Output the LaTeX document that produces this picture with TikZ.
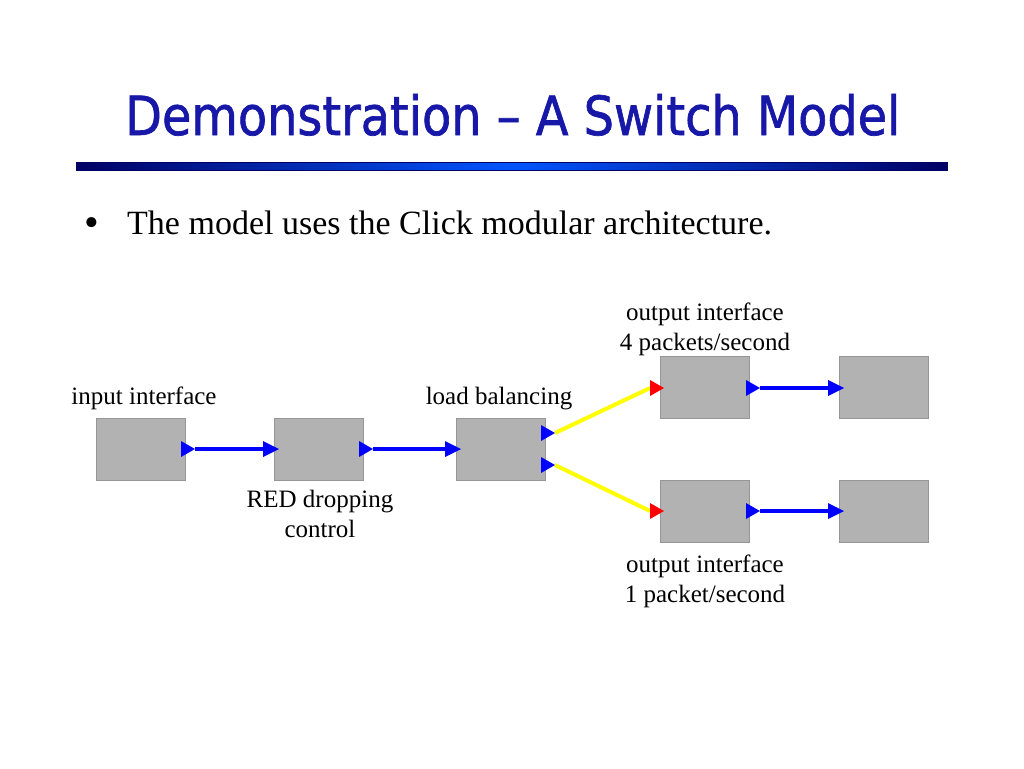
\documentclass[tikz,border=0pt]{standalone}
\usepackage{fontspec}
\setmainfont{Liberation Serif}
\newfontfamily\titlefont[FakeBold=1.3]{DejaVu Sans}
\usetikzlibrary{positioning}
\definecolor{titleblue}{RGB}{24,24,168}
\definecolor{barnavy}{RGB}{0,0,100}
\definecolor{barblue}{RGB}{0,85,255}
\definecolor{boxgray}{RGB}{178,178,178}
\definecolor{boxedge}{RGB}{150,150,150}
\definecolor{portblue}{RGB}{0,0,255}
\definecolor{portred}{RGB}{255,0,0}
\definecolor{wireyellow}{RGB}{255,255,0}
\begin{document}
\begin{tikzpicture}[x=1pt,y=-1pt,
  element/.style={rectangle,draw=boxedge,line width=0.6pt,fill=boxgray,minimum width=89pt,minimum height=62pt,inner sep=0pt},
  label/.style={font=\fontsize{25}{30}\selectfont,inner sep=0pt,align=center,anchor=base},
  bluewire/.style={draw=portblue,line width=4.5pt},
  yellowwire/.style={draw=wireyellow,line width=4pt}]
\useasboundingbox (0,0) rectangle (1024,768);
\fill[white] (0,0) rectangle (1024,768);
% title
\node[anchor=base west,inner sep=0pt,text=titleblue] (title) at (125,135)
  {\resizebox{775pt}{41pt}{\titlefont Demonstration – A Switch Model}};
\shade[left color=barnavy,right color=barnavy,middle color=barblue,draw=barnavy,line width=0.5pt] (76,162) rectangle (947,170);
% bullet
\node[anchor=base,inner sep=0pt,font=\fontsize{42}{50}\selectfont] (dot) at (92,236) {•};
\node[anchor=base west,inner sep=0pt,font=\fontsize{34}{40}\selectfont] (bullet) at (127,234)
  {The model uses the Click modular architecture.};
% elements
\node[element] (b1) at (141,449) {};
\node[element] (b2) at (318.5,449) {};
\node[element] (b3) at (501,449) {};
\node[element] (b4) at (705,387) {};
\node[element] (b5) at (883.5,387) {};
\node[element] (b6) at (705,511) {};
\node[element] (b7) at (883.5,511) {};
% port coordinates
\coordinate (o1) at (195,449);
\coordinate (i2) at (263,449);
\coordinate (o2) at (373,449);
\coordinate (i3) at (445,449);
\coordinate (o3a) at (555,433);
\coordinate (o3b) at (555,465);
\coordinate (i4) at (650,388);
\coordinate (i6) at (650,511);
\coordinate (o4) at (760,388);
\coordinate (i5) at (828,388);
\coordinate (o6) at (760,511);
\coordinate (i7) at (828,511);
% wires
\draw[bluewire] (o1) -- (i2);
\draw[bluewire] (o2) -- (i3);
\draw[yellowwire] (o3a) -- (i4);
\draw[yellowwire] (o3b) -- (i6);
\draw[bluewire] (o4) -- (i5);
\draw[bluewire] (o6) -- (i7);
% output triangles (tip at coordinate)
\foreach \p in {o1,o2,o3a,o3b,o4,o6}
  \fill[portblue] (\p) -- ++(-14,-8) -- ++(0,16) -- cycle;
% input triangles (base at coordinate)
\foreach \p in {i2,i3,i5,i7}
  \fill[portblue] (\p) -- ++(0,-8) -- ++(16,8) -- ++(-16,8) -- cycle;
\foreach \p in {i4,i6}
  \fill[portred] (\p) -- ++(0,-8) -- ++(14,8) -- ++(-14,8) -- cycle;
% labels
\node[label] (l1) at (144,404) {input interface};
\node[label] (l3) at (499,404) {load balancing};
\node[label] (l2) at (320,537) {RED dropping\\control};
\node[label] (l4) at (705,350) {output interface\\4 packets/second};
\node[label] (l6) at (705,602) {output interface\\1 packet/second};
\end{tikzpicture}
\end{document}
